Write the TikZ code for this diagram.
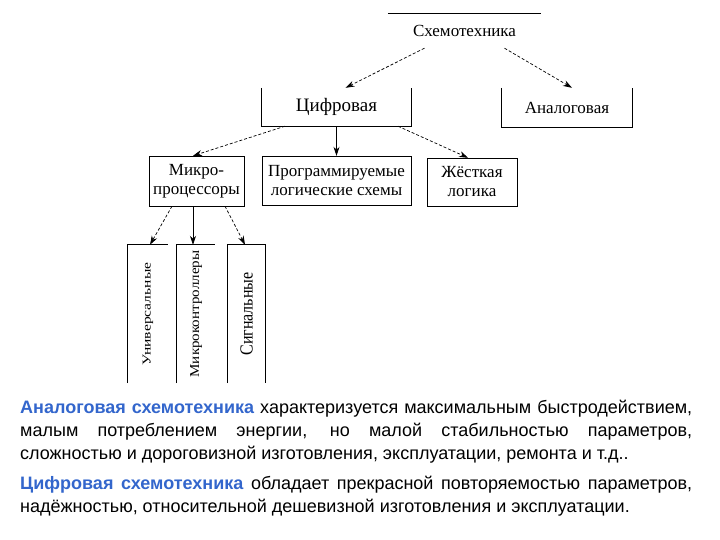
\documentclass[tikz,border=0pt]{standalone}
\usepackage{fontspec}
\setmainfont{Liberation Serif}
\newfontfamily\bodyfont{Liberation Sans}
\usepackage{xcolor}
\usetikzlibrary{arrows.meta}
\definecolor{accblue}{RGB}{51,102,204}

\begin{document}
\begin{tikzpicture}[x=1pt,y=-1pt,>={Stealth[length=9pt,width=6pt]},
  cell/.style={inner sep=0pt,font=\fontsize{17}{19}\selectfont,align=center},
  dasharr/.style={->,line width=0.7pt,dash pattern=on 3pt off 2pt},
  solarr/.style={->,line width=0.8pt},
  bodytext/.style={anchor=base west,inner sep=0pt,text width=672pt,align=justify,
    font=\bodyfont\fontsize{18}{23}\selectfont}]
  \useasboundingbox (0,0) rectangle (720,540);
  % tree
  \node[cell,minimum width=153pt,minimum height=34pt] (sch) at (464.5,31) {Схемотехника};
  \node[cell,minimum width=149pt,minimum height=38pt,font=\fontsize{19}{21}\selectfont] (cif) at (336.5,107) {Цифровая};
  \node[cell,minimum width=130pt,minimum height=39pt] (ana) at (567,107.5) {Аналоговая};
  \node[cell,draw,minimum width=95pt,minimum height=50pt] (mp) at (196.5,181) {Микро-\\процессоры};
  \node[cell,draw,minimum width=149pt,minimum height=49pt] (plm) at (336.5,180.5) {Программируемые\\логические схемы};
  \node[cell,draw,minimum width=90pt,minimum height=48pt] (zl) at (472,182) {Жёсткая\\логика};
  \node[cell,minimum width=40pt,minimum height=138pt,font=\fontsize{16}{18}\selectfont] (uni) at (148,314)
    {\rotatebox{90}{\scalebox{0.97}[0.75]{Универсальные}}};
  \node[cell,minimum width=38pt,minimum height=138pt,font=\fontsize{16}{18}\selectfont] (mk) at (196,314)
    {\rotatebox{90}{\scalebox{0.94}[0.85]{Микроконтроллеры}}};
  \node[cell,minimum width=37pt,minimum height=138pt,font=\fontsize{16}{18}\selectfont] (sig) at (246.5,314)
    {\rotatebox{90}{\scalebox{1}[1.15]{Сигнальные}}};
  \draw[line width=0.8pt] (sch.north west) -- (sch.north east);
  \draw[line width=0.8pt] (cif.north west) |- (cif.south east) -- (cif.north east);
  \draw[line width=0.8pt] (ana.north west) |- (ana.south east) -- (ana.north east);
  \draw[line width=0.8pt] (uni.south west) -- (uni.north west) -- (uni.north east);
  \draw[line width=0.8pt] (mk.south west) -- (mk.north west) -- (mk.north east);
  \draw[line width=0.8pt] (sig.south west) |- (sig.north east) -- (sig.south east);
  \draw[dasharr] ([xshift=-40pt]sch.south) -- ([xshift=9pt]cif.north);
  \draw[dasharr] ([xshift=40pt]sch.south) -- ([xshift=5pt]ana.north);
  \draw[dasharr] ([xshift=-51.5pt]cif.south) -- ([xshift=-3.5pt]mp.north);
  \draw[solarr] (cif.south) -- (plm.north);
  \draw[dasharr] ([xshift=61.5pt]cif.south) -- ([xshift=-4pt]zl.north);
  \draw[dasharr] ([xshift=-24.5pt]mp.south) -- ([xshift=2pt]uni.north);
  \draw[solarr] ([xshift=-3.5pt]mp.south) -- ([xshift=-3pt]mk.north);
  \draw[dasharr] ([xshift=28.5pt]mp.south) -- ([xshift=-1.5pt]sig.north);
  % text below
  \node[bodytext] (txa) at (20,413) {\textcolor{accblue}{\textbf{Аналоговая схемотехника}} характеризуется максимальным быстродействием,\linebreak{} малым потреблением энергии, но малой стабильностью параметров,\linebreak{} сложностью и дороговизной изготовления, эксплуатации, ремонта и т.д..};
  \node[bodytext] (txc) at (20,489) {\textcolor{accblue}{\textbf{Цифровая схемотехника}} обладает прекрасной повторяемостью параметров,\linebreak{} надёжностью, относительной дешевизной изготовления и эксплуатации.};
\end{tikzpicture}
\end{document}
